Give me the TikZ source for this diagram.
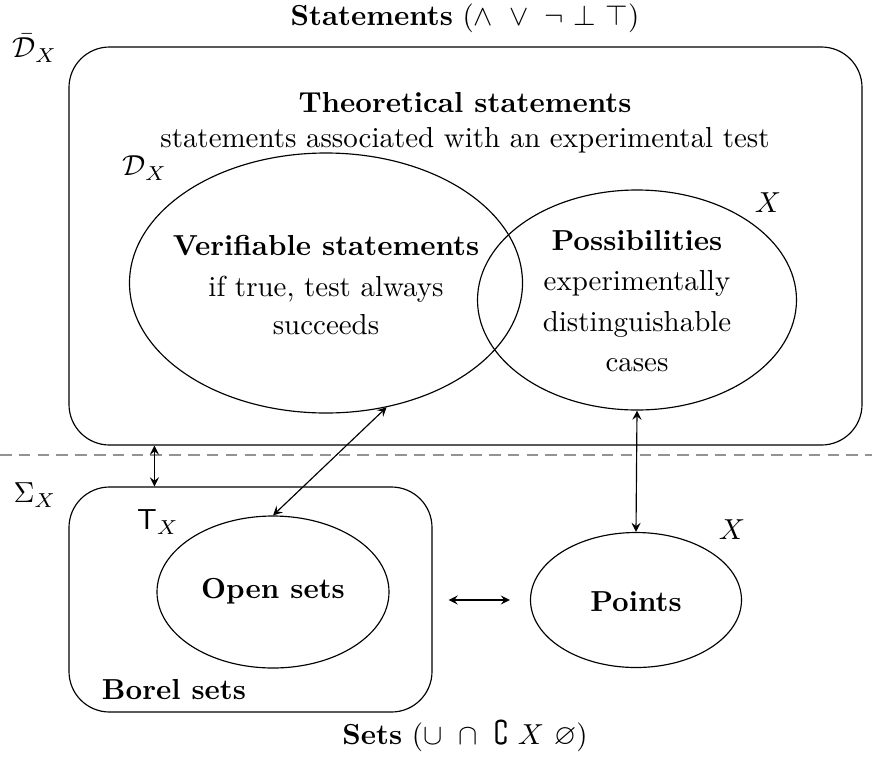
\documentclass[tikz,border=0pt]{standalone}
\usepackage{amssymb}
\usepackage{tikz}
\usetikzlibrary{shapes.geometric,calc}

\begin{document}
\begin{tikzpicture}[x=0.01215cm, y=-0.01215cm, >=stealth,
  region/.style={draw, rounded corners=14pt},
  blob/.style={draw, ellipse, inner sep=0pt}]
\useasboundingbox (0,0) rectangle (872,762);

\node (stmts) at (465,18) {\textbf{Statements} ($\land\ \lor\ \neg\ \bot\ \top$)};
\node (sets) at (465,736) {\textbf{Sets} ($\cup\ \cap\ \complement\ X\ \varnothing$)};

% upper part: statements
\node[region, minimum width=793*0.01215cm, minimum height=398*0.01215cm] (theo) at (465.5,246) {};
\node (dbar) at (35,48) {$\bar{\mathcal{D}}_X$};
\node (theotitle) at (465,103) {\textbf{Theoretical statements}};
\node (theosub) at (465,140) {statements associated with an experimental test};

\node[blob, minimum width=393*0.01215cm, minimum height=260*0.01215cm] (verif) at (326,283) {};
\node[align=center] (veriftext) at (326,285)
  {\textbf{Verifiable statements}\\[2pt] if true, test always\\[1pt] succeeds};
\node (dx) at (145,168) {$\mathcal{D}_X$};

\node[blob, minimum width=319*0.01215cm, minimum height=220*0.01215cm] (poss) at (637,300) {};
\node[align=center] (posstext) at (637,301)
  {\textbf{Possibilities}\\[2pt] experimentally\\[2pt] distinguishable\\[2pt] cases};
\node (xtop) at (768,203) {$X$};

\draw[gray!85, thick, dash pattern=on 4pt off 2.5pt] (0,455) -- (872,455);

% lower part: sets
\node[region, minimum width=363*0.01215cm, minimum height=225*0.01215cm] (borel) at (250.5,599.5) {};
\node (sigma) at (35,495) {$\Sigma_X$};
\node (tx) at (158,522) {$\mathsf{T}_X$};
\node (boreltitle) at (174,690) {\textbf{Borel sets}};

\node[blob, minimum width=232*0.01215cm, minimum height=152*0.01215cm] (open) at (273,592) {};
\node (opentext) at (273,591) {\textbf{Open sets}};
\node[blob, minimum width=211*0.01215cm, minimum height=135*0.01215cm] (points) at (636,600) {};
\node (pointstext) at (636,602) {\textbf{Points}};
\node (xbot) at (732,530) {$X$};

\coordinate (gap) at ($(theo.south west)+(86,0)$);
\draw[<->] (gap) -- (gap |- borel.north);
\draw[<->] (verif.-64) -- (open.north);
\draw[<->] (poss.south) -- (points.north);
\draw[<->, shorten <=16*0.01215cm, shorten >=20*0.01215cm] (points.west -| borel.east) -- (points.west);
\end{tikzpicture}
\end{document}
